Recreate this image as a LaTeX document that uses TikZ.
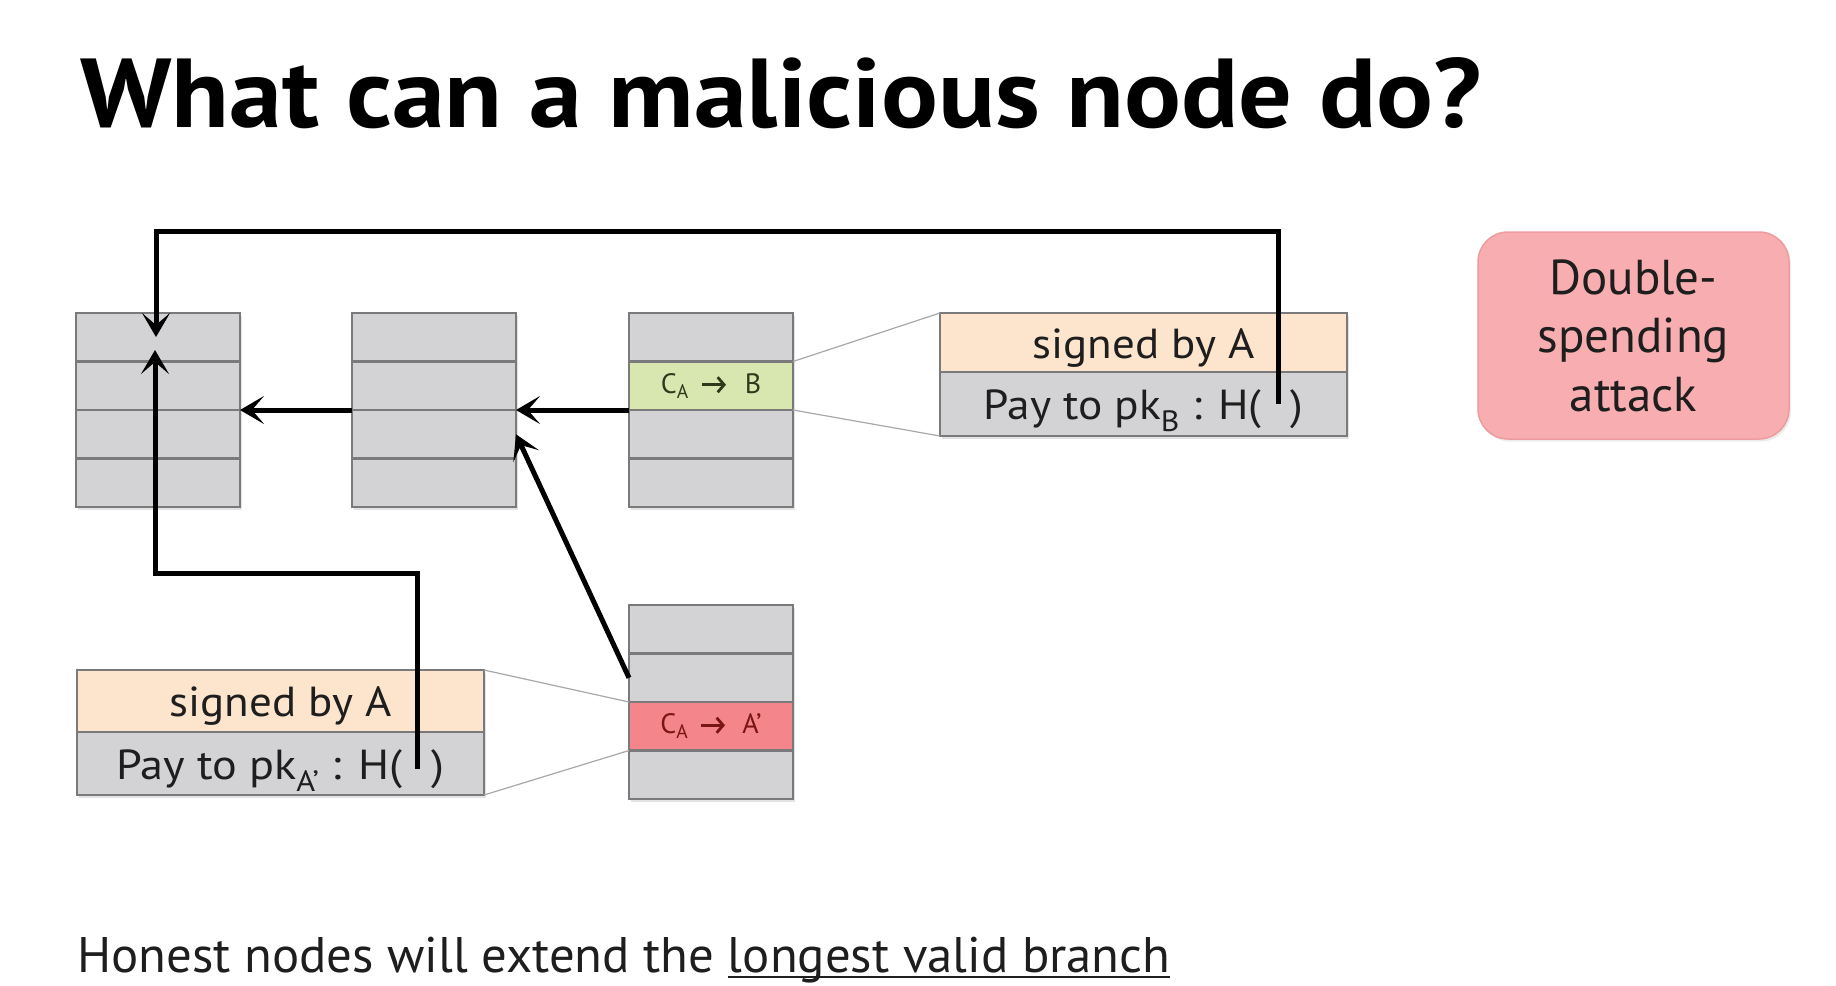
\documentclass[tikz,border=0pt]{standalone}
\usepackage{fontspec}
\setmainfont{PT Sans}
\usetikzlibrary{arrows.meta,shadows}
\definecolor{rowgray}{HTML}{D3D3D5}
\definecolor{rowline}{HTML}{7A7A7C}
\definecolor{sigorange}{HTML}{FDE5CD}
\definecolor{txgreen}{HTML}{D8E6B0}
\definecolor{txred}{HTML}{F4858A}
\definecolor{dsfill}{HTML}{F8AEB0}
\definecolor{dsline}{HTML}{EC9C9E}
\definecolor{thinline}{HTML}{A8A8A8}
\definecolor{greentext}{HTML}{2F3A1C}
\definecolor{redtext}{HTML}{7A1515}
\definecolor{inktext}{HTML}{1E1E1E}
\newcommand\myul[1]{\leavevmode\setbox0\hbox{#1}\rlap{\rule[-6pt]{\wd0}{2pt}}\box0}
\begin{document}
\begin{tikzpicture}[x=1pt,y=-1pt,
  row/.style={draw=rowline, line width=2.5pt, fill=rowgray, minimum width=164pt,
    minimum height=48.5pt, anchor=north west, inner sep=0pt, outer sep=0pt,
    text=inktext, drop shadow={shadow xshift=2pt,shadow yshift=-2.5pt,opacity=0.22}},
  txrow/.style={row, minimum width=407pt, font=\fontsize{42}{48}\selectfont,
    text height=31pt, text depth=0pt},
  smalltx/.style={font=\fontsize{28}{32}\selectfont},
  arr/.style={line width=5pt, draw=black, -{Stealth[length=24pt,width=28pt,inset=12pt]}},
  labarr/.style={line width=2.8pt, -{Straight Barb[length=6.5pt,width=15pt]}},
  thin/.style={draw=thinline, line width=1.2pt},
  dsbox/.style={draw=dsline, line width=1.5pt, fill=dsfill, rounded corners=30pt,
    minimum width=311pt, minimum height=207pt, align=center, inner sep=0pt,
    text=inktext, font=\fontsize{49}{58.5}\selectfont,
    drop shadow={shadow xshift=2pt,shadow yshift=-2.5pt,opacity=0.15}}
]
\useasboundingbox[fill=white] (0,0) rectangle (1836,985);

% title
\node[anchor=base west, inner sep=0pt, font=\fontsize{98}{110}\selectfont\bfseries, text=black]
  (title) at (80,127) {\scalebox{1.083}[1]{What can a malicious node do?}};

% block 1
\foreach \i in {1,...,4} {
  \node[row] (b1r\i) at (76,{313+(\i-1)*48.5}) {};
}
% block 2
\foreach \i in {1,...,4} {
  \node[row] (b2r\i) at (352,{313+(\i-1)*48.5}) {};
}
% block 3
\node[row] (b3r1) at (629,313) {};
\node[row, fill=txgreen, text=greentext, smalltx] (b3r2) at (629,361.5)
  {C\textsubscript{A}\hspace{56pt}B};
\node[row] (b3r3) at (629,410) {};
\node[row] (b3r4) at (629,458.5) {};
\draw[labarr, greentext] ([xshift=-9pt,yshift=1pt]b3r2.center) -- ([xshift=15pt,yshift=1pt]b3r2.center);
% block 4
\node[row] (b4r1) at (629,605) {};
\node[row] (b4r2) at (629,653.5) {};
\node[row, fill=txred, text=redtext, smalltx] (b4r3) at (629,702)
  {C\textsubscript{A}\hspace{54pt}A’};
\node[row] (b4r4) at (629,750.5) {};
\draw[labarr, redtext] ([xshift=-10pt,yshift=1pt]b4r3.center) -- ([xshift=14pt,yshift=1pt]b4r3.center);

% transaction to B
\node[txrow, fill=sigorange, minimum height=59pt] (tbs) at (940,313) {\scalebox{1.07}[1]{signed by A}};
\node[txrow, minimum height=64pt] (tbp) at (940,372)
  {\scalebox{1.08}[1]{Pay to pk\textsubscript{B} : H(\hspace{27pt})}};

% transaction to A'
\node[txrow, fill=sigorange, minimum height=62pt] (tas) at (77,670) {\scalebox{1.07}[1]{signed by A}};
\node[txrow, minimum height=63pt] (tap) at (77,732)
  {\scalebox{1.1}[1]{Pay to pk\textsubscript{A’} : H(\hspace{27pt})}};

% zoom lines
\draw[thin] (b3r2.north east) -- (tbs.north west);
\draw[thin] (b3r2.south east) -- (tbp.south west);
\draw[thin] (b4r3.north west) -- (tas.north east);
\draw[thin] (b4r3.south west) -- (tap.south east);

% chain arrows
\draw[arr] (b2r2.south west) -- (b1r2.south east);
\draw[arr] (b3r2.south west) -- (b2r2.south east);
\draw[arr] (b4r2.west) -- (b2r3.east);

% hash pointers
\coordinate (hB) at (1278,404);
\coordinate (hA) at (417,769);
\coordinate (tipTop) at (156,337);
\coordinate (tipBot) at (155,350);
\draw[arr] (hB) -- (1278,231) -| (tipTop);
\draw[arr] (hA) -- (417,573) -| (tipBot);

% double spending
\node[dsbox] (ds) at (1633.5,335.5) {Double-\\spending\\attack};

% bottom text
\node[anchor=base west, inner sep=0pt, font=\fontsize{50}{58}\selectfont, text=inktext]
  (bottom) at (77,972) {\scalebox{1.016}[1]{Honest nodes will extend the \myul{longest valid branch}}};
\end{tikzpicture}
\end{document}
